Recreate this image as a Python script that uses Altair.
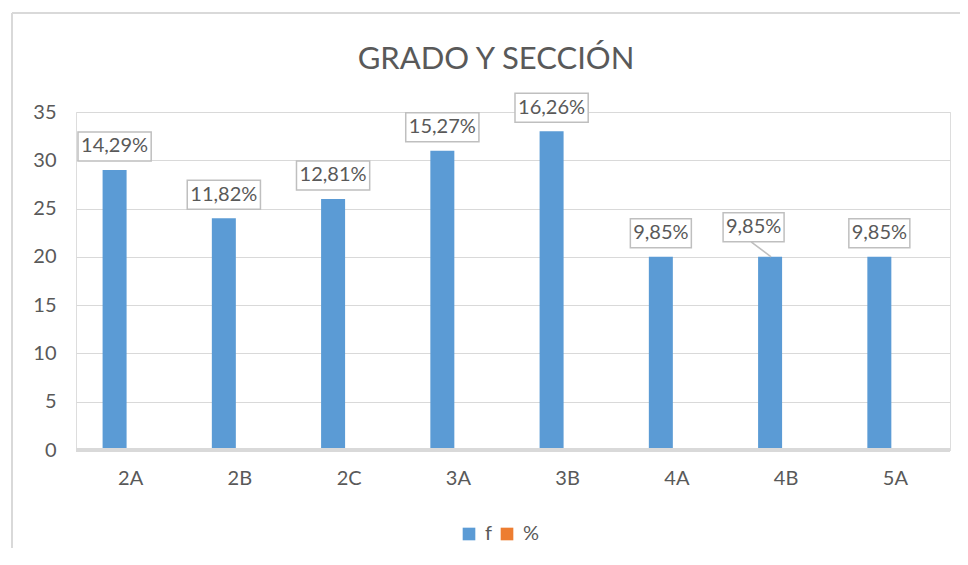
import altair as alt
import pandas as pd

categories = ["2A", "2B", "2C", "3A", "3B", "4A", "4B", "5A"]
f_values = [29, 24, 26, 31, 33, 20, 20, 20]
pct_values = [0.1429, 0.1182, 0.1281, 0.1527, 0.1626, 0.0985, 0.0985, 0.0985]
series = ["f", "%"]
colors = ["#5B9BD5", "#ED7D31"]
y_ticks = [0, 5, 10, 15, 20, 25, 30, 35]
title_text = "GRADO Y SECCIÓN"

rows = []
for c, f, p in zip(categories, f_values, pct_values):
    rows.append({"cat": c, "series": "f", "value": f, "pct": p})
    rows.append({"cat": c, "series": "%", "value": p, "pct": p})
df = pd.DataFrame(rows)

TXT = "#595959"
FONT = "Lato"

x = alt.X("cat:N", sort=categories,
          scale=alt.Scale(paddingInner=0.56, paddingOuter=0.28),
          axis=alt.Axis(title=None, labelAngle=0, ticks=False, domain=False,
                        labelPadding=18, labelFontSize=20, labelColor=TXT,
                        labelFont=FONT, grid=False))
xo = alt.XOffset("series:N", sort=series, scale=alt.Scale(domain=series, range=[-4, 44]))
y = alt.Y("value:Q", scale=alt.Scale(domain=[0, 35], nice=False),
          axis=alt.Axis(title=None, values=y_ticks, ticks=False, domain=False,
                        labelPadding=20, labelFontSize=20, labelColor=TXT,
                        labelFont=FONT, gridColor="#D9D9D9", gridWidth=1.2))

base = alt.Chart(df)

bars = base.mark_bar().encode(
    x=x, xOffset=xo, y=y,
    color=alt.Color("series:N", sort=series,
                    scale=alt.Scale(domain=series, range=colors),
                    legend=alt.Legend(title=None, orient="none", legendX=383, legendY=412,
                                      direction="horizontal", symbolType="square",
                                      symbolSize=160, symbolStrokeWidth=0,
                                      labelFontSize=20, labelColor=TXT, labelFont=FONT,
                                      columnPadding=4, labelOffset=6)),
)

zero = alt.Chart(pd.DataFrame({"z": [0]})).mark_rule(color="#D9D9D9", strokeWidth=4).encode(
    y=alt.Y("z:Q"))

lab = base.transform_filter("datum.series == 'f'").transform_calculate(
    label="replace(format(datum.pct * 100, '.2f'), '.', ',') + '%'"
).transform_calculate(
    hw="length(datum.label) * 6.1"
).transform_calculate(
    path="datum.cat == '4B' ? "
         "('M' + (-datum.hw - 16.5) + ',-44H' + (datum.hw - 16.5) + 'V-15H' + (-datum.hw - 16.5) + 'ZM-19,-15L1,0') : "
         "('M' + (-datum.hw) + ',-38H' + datum.hw + 'V-9H' + (-datum.hw) + 'Z')"
)

boxes = lab.mark_point(size=4, filled=True, fill="white", stroke="#BFBFBF",
                       strokeWidth=1.5, opacity=1, fillOpacity=1).encode(
    x=x, xOffset=xo, y=y, shape=alt.Shape("path:N", scale=None)
)

texts = lab.transform_filter("datum.cat != '4B'").mark_text(
    dy=-23.5, baseline="middle", fontSize=20, color=TXT, font=FONT
).encode(x=x, xOffset=xo, y=y, text="label:N")

text4b = lab.transform_filter("datum.cat == '4B'").mark_text(
    dx=-16.5, dy=-29.5, baseline="middle", fontSize=20, color=TXT, font=FONT
).encode(x=x, xOffset=xo, y=y, text="label:N")

one = alt.Chart(pd.DataFrame({"k": [0]}))
frame_left = one.mark_rule(color="#D9D9D9", strokeWidth=2).encode(
    x=alt.value(-64), y=alt.value(-99), y2=alt.value(440))
frame_top = one.mark_rule(color="#D9D9D9", strokeWidth=2).encode(
    x=alt.value(-64), x2=alt.value(884), y=alt.value(-99))
title = one.mark_text(text=title_text, fontSize=31, font=FONT, color=TXT,
                      baseline="alphabetic", align="center").encode(
    x=alt.value(420), y=alt.value(-43))

chart = alt.layer(frame_left, frame_top, title, bars, zero, boxes, texts, text4b).properties(
    width=874, height=338,
    autosize=alt.AutoSizeParams(type="none"),
    padding={"left": 68, "top": 104, "right": 10, "bottom": 98},
).configure_view(stroke=None).configure(font=FONT)

chart.save("out.html", embed_options={"renderer": "svg", "actions": False})
